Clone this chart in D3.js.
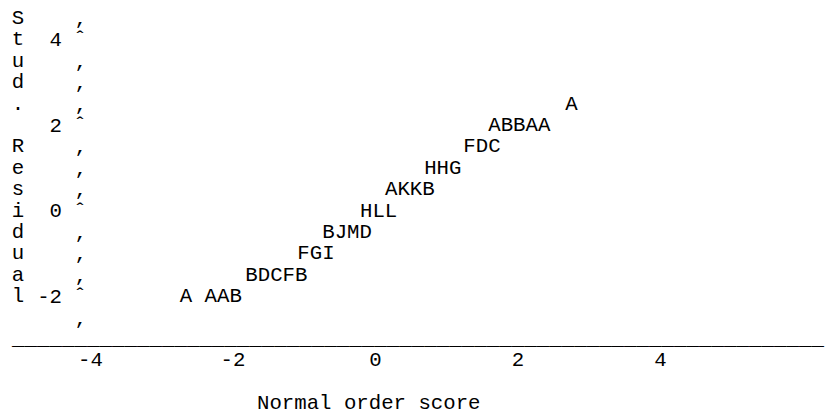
<!DOCTYPE html>
<html>
<head>
<meta charset="utf-8">
<script src="https://d3js.org/d3.v7.min.js"></script>
<style>
body { margin: 0; background: #fff; }
text { white-space: pre; }
</style>
</head>
<body>
<div id="plot"></div>
<script>
// plotted symbols, one string per print row (A = 1 obs, B = 2, ...)
const symbols = ['A', 'ABBAA', 'FDC', 'HHG', 'AKKB', 'HLL', 'BJMD', 'FGI', 'BDCFB', 'A AAB'];
// normal order score where each string starts
const scores = [2.67, 1.59, 1.24, 0.69, 0.14, -0.21, -0.74, -1.09, -1.82, -2.74];
// studentized residual of each row
const resid = [2.5, 2, 1.5, 1, 0.5, 0, -0.5, -1, -1.5, -2];

const xTicks = [-4, -2, 0, 2, 4];
const yTicks = [4, 2, 0, -2];
const yRows = [4.5, 4, 3.5, 3, 2.5, 2, 1.5, 1, 0.5, 0, -0.5, -1, -1.5, -2, -2.5];
const yLabel = 'Stud. Residual';
const xLabel = 'Normal order score';

const width = 825;
const height = 417;
const font = 'Liberation Mono, DejaVu Sans Mono, monospace';
const fontSize = 20.7;
const rowH = 21.4;
const firstRow = 24;
const axisX = 80;

const svg = d3.select('#plot')
    .append('svg')
    .attr('width', width)
    .attr('height', height)
    .style('background-color', 'white')
    .style('font-family', font)
    .style('font-size', fontSize + 'px');

const x = d3.scaleLinear()
    .domain([-4, 4])
    .range([90, 660]);

const y = d3.scaleLinear()
    .domain([4.5, -2.5])
    .range([firstRow, firstRow + 14 * rowH]);

// plain hyphen for negatives, like the listing
const fmt = d => String(d);

// vertical axis title, one letter per row
svg.selectAll('.ylab')
    .data(yLabel.split(''))
    .enter()
    .append('text')
    .attr('class', 'ylab')
    .attr('x', 18)
    .attr('y', (d, i) => y(yRows[i]))
    .attr('text-anchor', 'middle')
    .text(d => d);

// axis column characters
svg.selectAll('.ycol')
    .data(yRows)
    .enter()
    .append('text')
    .attr('class', 'ycol')
    .attr('x', axisX)
    .attr('y', d => y(d))
    .attr('text-anchor', 'middle')
    .text(d => yTicks.includes(d) ? '\u02C6' : '\u201A');

const yAxis = d3.axisLeft(y)
    .tickValues(yTicks)
    .tickFormat(fmt)
    .tickSize(0)
    .tickPadding(18);

const gy = svg.append('g')
    .attr('id', 'y-axis')
    .attr('transform', `translate(${axisX}, 0)`)
    .call(yAxis);

const xAxis = d3.axisBottom(x)
    .tickValues(xTicks)
    .tickFormat(fmt)
    .tickSize(0)
    .tickPadding(0);

const gx = svg.append('g')
    .attr('id', 'x-axis')
    .attr('transform', `translate(0, ${firstRow + 16 * rowH})`)
    .call(xAxis);

[gy, gx].forEach(g => {
    g.attr('font-family', null).attr('font-size', null);
    g.select('.domain').remove();
    g.selectAll('text').attr('dy', 0).attr('fill', '#000');
});
gx.selectAll('text').attr('y', 0);

// horizontal rule made of underscores
svg.append('text')
    .attr('x', 12)
    .attr('y', firstRow + 15 * rowH)
    .attr('textLength', 812)
    .attr('lengthAdjust', 'spacingAndGlyphs')
    .text('_'.repeat(65));

svg.append('text')
    .attr('x', 257)
    .attr('y', firstRow + 18 * rowH)
    .text(xLabel);

// plotted points
svg.selectAll('.pt')
    .data(symbols)
    .enter()
    .append('text')
    .attr('class', 'pt')
    .attr('x', (d, i) => x(scores[i]))
    .attr('y', (d, i) => y(resid[i]))
    .text(d => d);
</script>
</body>
</html>
